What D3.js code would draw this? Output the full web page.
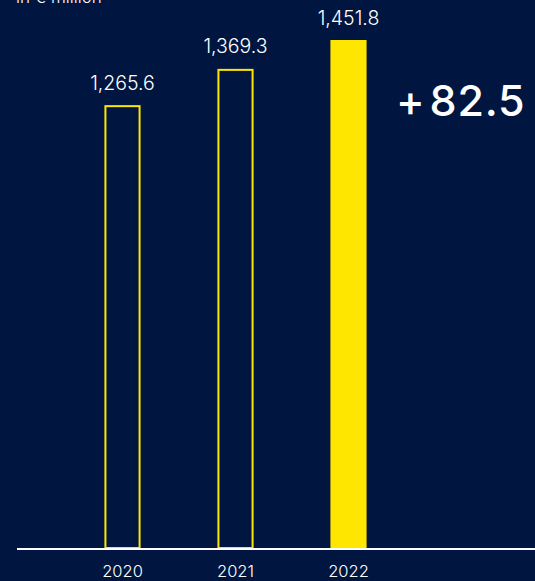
<!DOCTYPE html>
<html>
<head>
<meta charset="utf-8">
<script src="https://cdn.jsdelivr.net/npm/d3@7"></script>
<style>
  html, body { margin: 0; padding: 0; background: #001640; }
  svg { display: block; }
  text { font-family: Inter, "Noto Sans", sans-serif; fill: #ffffff; }
</style>
</head>
<body>
<svg id="chart" width="535" height="581"></svg>
<script>
// Revenue by year, in € million
const years = ["2020", "2021", "2022"];
const values = [1265.6, 1369.3, 1451.8];
const highlight = ["2022"];
const deltaSign = "+";
const deltaValue = "82.5";
const unitLabel = "in € million";

const W = 535, H = 581;
const svg = d3.select("#chart");
const yellow = "#FFE600";
const font = 'Inter, "Noto Sans", sans-serif';

svg.append("rect").attr("width", W).attr("height", H).attr("fill", "#001640");

const baseY = 548;
const x = d3.scaleBand().domain(years).range([66, 405]).paddingInner(0.68).paddingOuter(0.34);
const y = d3.scaleLinear().domain([0, 1451.8]).range([baseY, 40]);

const data = years.map((yr, i) => ({ year: yr, value: values[i] }));
const isHi = d => highlight.includes(d.year);

// Bars: past years outlined, current year filled
svg.selectAll("rect.bar").data(data).join("rect")
  .attr("class", "bar")
  .attr("x", d => isHi(d) ? x(d.year) : x(d.year) + 1)
  .attr("y", d => isHi(d) ? y(d.value) : y(d.value) + 1)
  .attr("width", d => isHi(d) ? x.bandwidth() : x.bandwidth() - 2)
  .attr("height", d => isHi(d) ? baseY - y(d.value) : baseY - y(d.value) - 1)
  .attr("fill", d => isHi(d) ? yellow : "none")
  .attr("stroke", d => isHi(d) ? "none" : yellow)
  .attr("stroke-width", 2);

// Value labels
const fmt = d3.format(",.1f");
svg.selectAll("text.val").data(data).join("text")
  .attr("class", "val")
  .attr("x", d => x(d.year) + x.bandwidth() / 2)
  .attr("y", d => y(d.value) - 15.5)
  .attr("text-anchor", "middle")
  .attr("font-size", 19.5)
  .attr("font-weight", 300)
  .text(d => fmt(d.value));

// Category axis
const axis = d3.axisBottom(x).tickSize(0).tickPadding(17);
const gAxis = svg.append("g").attr("transform", `translate(0,${baseY})`).call(axis);
gAxis.select(".domain").remove();
gAxis.selectAll("text").attr("font-size", 16.5).attr("font-weight", 300).attr("fill", "#ffffff")
  .style("font-family", font);
svg.append("line")
  .attr("x1", 17).attr("x2", W).attr("y1", baseY + 1).attr("y2", baseY + 1)
  .attr("stroke", "#ffffff").attr("stroke-width", 2);

// Unit label
svg.append("text").attr("x", 16).attr("y", 3).attr("font-size", 17).attr("font-weight", 300).text(unitLabel);

// Year-on-year change
const delta = svg.append("text")
  .attr("x", 396).attr("y", 116)
  .attr("font-size", 43).attr("font-weight", 500)
  .attr("letter-spacing", 0.8);
delta.append("tspan").text(deltaSign);
delta.append("tspan").attr("dx", 4).text(deltaValue);
</script>
</body>
</html>
